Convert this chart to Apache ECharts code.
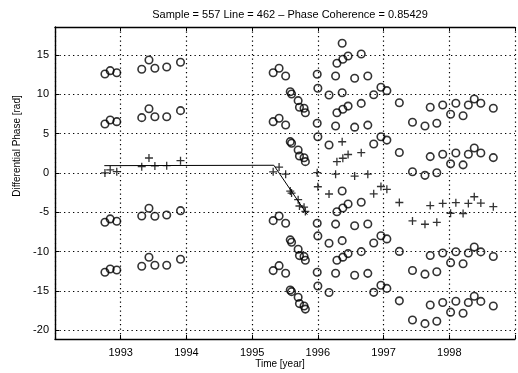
<!DOCTYPE html>
<html>
<head>
<meta charset="utf-8">
<script src="https://cdn.jsdelivr.net/npm/echarts@6/dist/echarts.min.js"></script>
<style>
  html, body { margin: 0; padding: 0; background: #fff; }
  #chart { width: 518px; height: 373px; }
</style>
</head>
<body>
<div id="chart"></div>
<script>
// epoch times (decimal year)
var years = [
  1992.76, 1992.84, 1992.94,
  1993.32, 1993.43, 1993.52, 1993.70, 1993.91,
  1995.32, 1995.41, 1995.51, 1995.58, 1995.60, 1995.70, 1995.72, 1995.79, 1995.81,
  1995.99, 1996.00, 1996.17, 1996.27, 1996.29, 1996.37, 1996.38, 1996.46, 1996.56,
  1996.66, 1996.76, 1996.85, 1996.96, 1997.05, 1997.24, 1997.44, 1997.63, 1997.71,
  1997.81, 1997.90, 1998.02, 1998.10, 1998.21, 1998.29, 1998.38, 1998.48, 1998.67
];
// chosen (unwrapped) phase, drawn as +
var phasePlus = [
  0.0, 0.4, 0.17,
  0.8, 1.9, 0.9, 0.93, 1.56,
  0.15, 0.75, -0.15, -2.3, -2.55, -3.4, -4.2, -4.35, -4.9,
  0.04, -1.75, -2.67, -0.15, 1.44, 3.97, 1.87, 2.35, -0.4,
  2.58, -0.15, -2.65, -1.72, -2.08, -3.75, -6.1, -6.52, -4.15,
  -6.27, -3.87, -5.12, -3.77, -5.15, -3.87, -3.02, -3.83, -4.28
];
// ambiguity circles, one array per level
var circleTop = [
  12.58, 13.0, 12.74,
  13.18, 14.36, 13.3, 13.47, 14.07,
  12.74, 13.3, 12.33, 10.33, 10.04, 9.19, 8.35, 8.22, 7.66,
  12.54, 10.76, 9.91, 12.33, 13.94, 16.48, 14.45, 14.87, 12.03,
  15.12, 12.33, 9.94, 10.89, 10.46, 8.93, 6.44, 5.97, 8.35,
  6.31, 8.64, 7.46, 8.86, 7.28, 8.64, 9.4, 8.86, 8.22
];
var circleHigh = [
  6.23, 6.73, 6.52,
  7.03, 8.17, 7.15, 7.15, 7.92,
  6.52, 6.95, 6.1, 3.98, 3.77, 2.92, 2.16, 1.94, 1.44,
  6.31, 4.61, 3.56, 5.97, 7.66, 10.2, 8.09, 8.5, 5.82,
  8.84, 6.08, 3.68, 4.6, 4.18, 2.6, 0.16, -0.3, 2.08,
  0.02, 2.38, 1.16, 2.54, 1.03, 2.38, 3.18, 2.53, 1.95
];
var circleLow = [
  -6.27, -5.84, -6.14,
  -5.46, -4.49, -5.5, -5.34, -4.79,
  -6.06, -5.46, -6.39, -8.5, -8.8, -9.7, -10.5, -10.6, -11.1,
  -6.39, -8.0, -8.93, -6.5, -4.92, -2.3, -4.45, -3.95, -6.7,
  -3.72, -6.48, -8.9, -7.98, -8.38, -9.97, -12.4, -12.86, -10.48,
  -12.55, -10.18, -11.4, -10.02, -11.53, -10.18, -9.4, -10.03, -10.61
];
var circleBottom = [
  -12.62, -12.2, -12.33,
  -11.86, -10.71, -11.73, -11.73, -10.97,
  -12.41, -11.78, -12.74, -14.87, -15.08, -15.8, -16.6, -16.9, -17.3,
  -12.62, -14.36, -15.2, -12.74, -11.1, -8.6, -10.7, -10.25, -13.0,
  -10.0, -12.76, -15.17, -14.27, -14.67, -16.25, -18.69, -19.15, -16.77,
  -18.84, -16.47, -17.69, -16.31, -17.82, -16.47, -15.67, -16.32, -16.9
];
// model line (vertices)
var modelYears = [1992.75, 1995.33, 1995.84];
var modelPhase = [0.93, 0.98, -5.3];

function pairs(xs, ys) {
  return xs.map(function(x, i) { return [x, ys[i]]; });
}
var circleData = []
  .concat(pairs(years, circleTop))
  .concat(pairs(years, circleHigh))
  .concat(pairs(years, circleLow))
  .concat(pairs(years, circleBottom));

var FONT = 'Liberation Sans, Arial, Helvetica, sans-serif';
var chart = echarts.init(document.getElementById('chart'), null, { renderer: 'canvas' });

var gridLine = { show: true, lineStyle: { color: '#000', width: 1.2, type: [1.3, 3.2] } };

chart.setOption({
  animation: false,
  backgroundColor: '#fff',
  title: {
    text: 'Sample = 557 Line = 462 \u2013 Phase Coherence = 0.85429',
    left: 285, top: 4, textAlign: 'center',
    textStyle: { fontFamily: FONT, fontSize: 11, fontWeight: 'normal', color: '#000' }
  },
  grid: { left: 55, top: 27, width: 465, height: 312, show: false },
  xAxis: [{
    type: 'value', min: 1992, max: 1999, interval: 1,
    axisLine: { show: true, onZero: false, lineStyle: { color: '#000', width: 1.4 } },
    axisTick: { show: true, inside: true, length: 4, lineStyle: { color: '#000' } },
    axisLabel: {
      color: '#000', fontFamily: FONT, fontSize: 11, margin: 8,
      formatter: function(v) { return (v > 1992 && v < 1999) ? String(v) : ''; }
    },
    splitLine: gridLine
  }, {
    type: 'value', min: 1992, max: 1999, interval: 1, position: 'top',
    axisLine: { show: true, onZero: false, lineStyle: { color: '#000', width: 1.4 } },
    axisTick: { show: true, inside: true, length: 4, lineStyle: { color: '#000' } },
    axisLabel: { show: false },
    splitLine: { show: false }
  }],
  yAxis: [{
    type: 'value', min: -21.1, max: 18.55, splitNumber: 8,
    axisLine: { show: true, onZero: false, lineStyle: { color: '#000', width: 1.4 } },
    axisTick: { show: true, inside: true, length: 4, lineStyle: { color: '#000' } },
    axisLabel: {
      color: '#000', fontFamily: FONT, fontSize: 11, margin: 6,
      showMinLabel: false, showMaxLabel: false,
      formatter: function(v) { return Math.abs(v % 5) < 1e-6 ? String(v) : ''; }
    },
    splitLine: gridLine
  }],
  graphic: [{
    type: 'text', x: 17, y: 146, rotation: Math.PI / 2,
    style: {
      text: 'Differential Phase [rad]', fontFamily: FONT, fontSize: 10,
      fill: '#000', align: 'center', verticalAlign: 'middle'
    }
  }, {
    type: 'text', x: 280, y: 364,
    style: {
      text: 'Time [year]', fontFamily: FONT, fontSize: 10,
      fill: '#000', align: 'center', verticalAlign: 'middle'
    }
  }],
  series: [{
    type: 'line',
    data: pairs(modelYears, modelPhase),
    symbol: 'none',
    lineStyle: { color: '#000', width: 1 },
    z: 3
  }, {
    type: 'scatter',
    data: circleData,
    symbol: 'circle',
    symbolSize: 7.5,
    itemStyle: { color: 'rgba(0,0,0,0)', borderColor: '#000', borderWidth: 1.6 },
    z: 4
  }, {
    type: 'scatter',
    data: pairs(years, phasePlus),
    symbol: 'path://M4,0L4,8M0,4L8,4',
    symbolSize: 8,
    itemStyle: { color: 'none', borderColor: '#000', borderWidth: 1.3 },
    z: 5
  }]
});
</script>
</body>
</html>
